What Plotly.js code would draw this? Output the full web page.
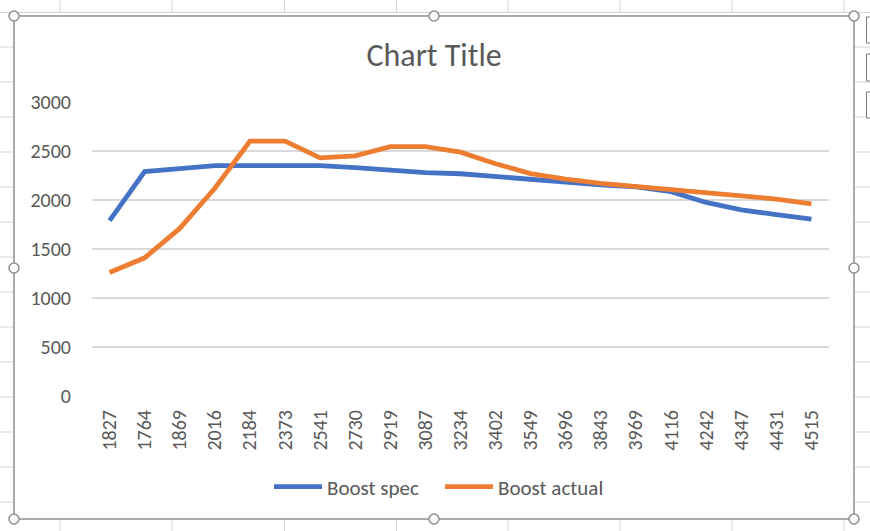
<!DOCTYPE html>
<html>
<head>
<meta charset="utf-8">
<script src="https://cdn.plot.ly/plotly-3.0.1.min.js"></script>
<style>
  html, body { margin: 0; padding: 0; background: #ffffff; }
  #chart { width: 870px; height: 531px; }
</style>
</head>
<body>
<div id="chart"></div>
<script>
// Engine speed (rpm) categories along the bottom axis
const rpm = ["1827", "1764", "1869", "2016", "2184", "2373", "2541", "2730", "2919", "3087", "3234",
             "3402", "3549", "3696", "3843", "3969", "4116", "4242", "4347", "4431", "4515"];

// Boost values per rpm step
const boostSpec = [1790, 2290, 2320, 2350, 2350, 2350, 2350, 2330, 2300, 2280, 2268,
                   2237, 2205, 2177, 2155, 2135, 2085, 1975, 1900, 1850, 1805];
const boostActual = [1260, 1410, 1710, 2120, 2600, 2600, 2430, 2450, 2545, 2545, 2488,
                     2370, 2270, 2213, 2170, 2140, 2105, 2078, 2050, 2010, 1960];

const yTicks = [0, 500, 1000, 1500, 2000, 2500, 3000];

const W = 870, H = 531;
const PX = x => x / W;
const PY = y => 1 - y / H;

const FONT = "Calibri, Carlito, Lato, 'Open Sans', sans-serif";
const TEXT = "#595959";
const SHEET = "#d4d4d4";
const FRAME = "#8f8f8f";

const shapes = [];
function line(x0, y0, x1, y1, color, width, layer) {
  shapes.push({type: "line", xref: "paper", yref: "paper",
    x0: PX(x0), y0: PY(y0), x1: PX(x1), y1: PY(y1),
    line: {color: color, width: width}, layer: layer || "below"});
}

// worksheet cell grid around the chart object
line(0, 12.5, W, 12.5, SHEET, 1);
[60, 172, 284.5, 396.5, 508, 620, 732, 844].forEach(x => {
  line(x, 0, x, 12.5, SHEET, 1);
  line(x, 519, x, H, SHEET, 1);
});
for (let y = 47; y < H; y += 35) {
  line(0, y, 14, y, SHEET, 1);
  line(854, y, W, y, SHEET, 1);
}
// chart element buttons peeking in at the right edge
[[17, 43], [54, 81], [92, 118]].forEach(([a, b]) => {
  shapes.push({type: "rect", xref: "paper", yref: "paper",
    x0: PX(866.5), x1: PX(W + 5), y0: PY(a), y1: PY(b),
    line: {color: "#7a7a7a", width: 1}, fillcolor: "#ffffff", layer: "below"});
});

// selected chart frame
line(14, 16, 854, 16, FRAME, 1.5, "above");
line(14, 519, 854, 519, FRAME, 1.5, "above");
line(14, 16, 14, 519, FRAME, 1.5, "above");
line(854, 16, 854, 519, FRAME, 1.5, "above");

// resize handles
const r = 5;
[[14, 16], [434, 16], [854, 16], [14, 268], [854, 268], [14, 519], [434, 519], [854, 519]].forEach(([cx, cy]) => {
  shapes.push({type: "circle", xref: "paper", yref: "paper",
    x0: PX(cx - r), x1: PX(cx + r), y0: PY(cy + r), y1: PY(cy - r),
    line: {color: FRAME, width: 1.5}, fillcolor: "#ffffff", layer: "above"});
});

const traces = [
  {x: rpm, y: boostSpec, name: "Boost spec", type: "scatter", mode: "lines",
   line: {color: "#4472C4", width: 4.8}},
  {x: rpm, y: boostActual, name: "Boost actual", type: "scatter", mode: "lines",
   line: {color: "#ED7D31", width: 4.8}}
];

const layout = {
  width: W, height: H,
  margin: {l: 0, r: 0, t: 0, b: 0, pad: 0},
  paper_bgcolor: "#ffffff",
  plot_bgcolor: "rgba(0,0,0,0)",
  font: {family: FONT, color: TEXT, size: 20},
  title: {text: "Chart Title", x: 0.4989, xref: "paper", xanchor: "center",
          y: PY(55), yref: "paper", yanchor: "middle",
          font: {family: FONT, size: 32, color: TEXT}},
  showlegend: true,
  legend: {orientation: "h", x: PX(269), xanchor: "left", y: PY(487), yanchor: "middle",
           font: {family: FONT, size: 21, color: TEXT}, bgcolor: "rgba(0,0,0,0)",
           itemwidth: 48, entrywidth: 108, traceorder: "normal"},
  xaxis: {
    type: "category", domain: [PX(92), PX(829)], range: [-0.5, rpm.length - 0.5],
    tickangle: -90, showgrid: false, showline: false, zeroline: false,
    ticks: "", ticklabelstandoff: 9, tickfont: {family: FONT, size: 20, color: TEXT},
    fixedrange: true
  },
  yaxis: {
    domain: [PY(396), PY(102)], range: [0, 3000],
    tickvals: yTicks, ticktext: yTicks.map(String),
    showgrid: true, gridcolor: "#d9d9d9", gridwidth: 1.5,
    zeroline: false, showline: false, ticks: "", ticklabelstandoff: 20,
    tickfont: {family: FONT, size: 20, color: TEXT}, fixedrange: true
  },
  shapes: shapes
};

Plotly.newPlot("chart", traces, layout, {displayModeBar: false, staticPlot: true});
</script>
</body>
</html>
